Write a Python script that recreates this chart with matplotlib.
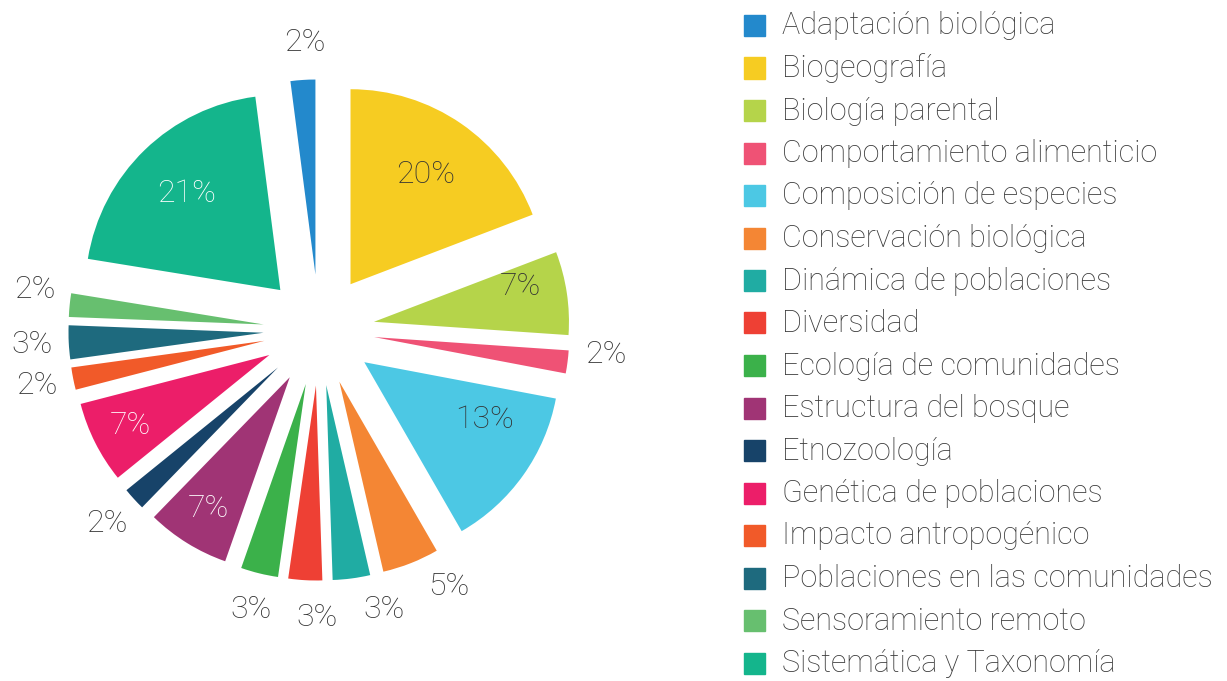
import numpy as np
import matplotlib.pyplot as plt
from matplotlib.patches import Rectangle

categories = ['Adaptación biológica', 'Biogeografía', 'Biología parental',
              'Comportamiento alimenticio', 'Composición de especies',
              'Conservación biológica', 'Dinámica de poblaciones', 'Diversidad',
              'Ecología de comunidades', 'Estructura del bosque', 'Etnozoología',
              'Genética de poblaciones', 'Impacto antropogénico',
              'Poblaciones en las comunidades', 'Sensoramiento remoto',
              'Sistemática y Taxonomía']
# share of each slice as drawn, and the label printed on it
share = [2.05, 19.2, 6.9, 1.9, 13.7, 4.7, 3.1, 2.8, 3.1, 6.9, 1.9, 6.8,
         1.85, 2.8, 1.95, 20.4]
labels = ['2%', '20%', '7%', '2%', '13%', '5%', '3%', '3%', '3%', '7%', '2%',
          '7%', '2%', '3%', '2%', '21%']
colors = ['#2389CC', '#F6CC22', '#B5D44A', '#EF5275', '#4CC8E4', '#F48634',
          '#20ACA3', '#EE4034', '#3BB14A', '#A03475', '#174369', '#EC1E69',
          '#F15A29', '#1E6A7E', '#67BF6F', '#14B58C']
# slices with the value written inside: (distance, colour)
inside = {1: (0.68, '#333333'), 2: (0.77, '#333333'), 4: (0.68, '#333333'),
          9: (0.79, 'white'), 11: (0.8, 'white'), 15: (0.69, 'white')}
# small angular nudges (deg, counterclockwise) of some labels
nudge = {0: -1, 2: 5, 3: 3, 4: 10, 5: 6.5, 6: 7, 7: 3.5, 14: -3}

plt.rcParams['font.family'] = ['Roboto', 'DejaVu Sans']
W, H = 1227, 681
fig = plt.figure(figsize=(W / 100, H / 100), dpi=100)
ax = fig.add_axes([0, 0, 1, 1])

# chart drawn clockwise from 12 o'clock, Biogeografía first
order = list(range(1, 16)) + [0]
vals = [share[i] for i in order]
cols = [colors[i] for i in order]
wedges, _ = ax.pie(vals, colors=cols, startangle=90, counterclock=False,
                   explode=[0.285] * len(vals), radius=1,
                   wedgeprops=dict(linewidth=0))

# pie geometry in pixels
cx, cy, R = 319, 330, 195
ax.set_aspect('auto')
ax.set_xlim(-cx / R, (W - cx) / R)
ax.set_ylim(-(H - cy) / R, cy / R)
ax.axis('off')

for w, idx in zip(wedges, order):
    mid = (w.theta1 + w.theta2) / 2
    cxw, cyw = w.center
    d, c = inside.get(idx, (1.19, '#333333'))
    a = np.deg2rad(mid + nudge.get(idx, 0))
    ax.text(cxw + d * np.cos(a), cyw + d * np.sin(a), labels[idx],
            ha='center', va='center', fontsize=23, color=c,
            fontweight='light')

# legend
top, step, sz = 15, 42.5, 21
for i, (name, col) in enumerate(zip(categories, colors)):
    y = top + i * step
    fig.add_artist(Rectangle((744 / W, 1 - (y + sz) / H), sz / W, sz / H,
                             transform=fig.transFigure, color=col, zorder=5))
    fig.text(782 / W, 1 - (y + sz - 1.5) / H, name, ha='left', va='baseline',
             fontsize=22, color='#3a3a3a', fontweight='light')

fig.savefig('out.png', dpi=100)
